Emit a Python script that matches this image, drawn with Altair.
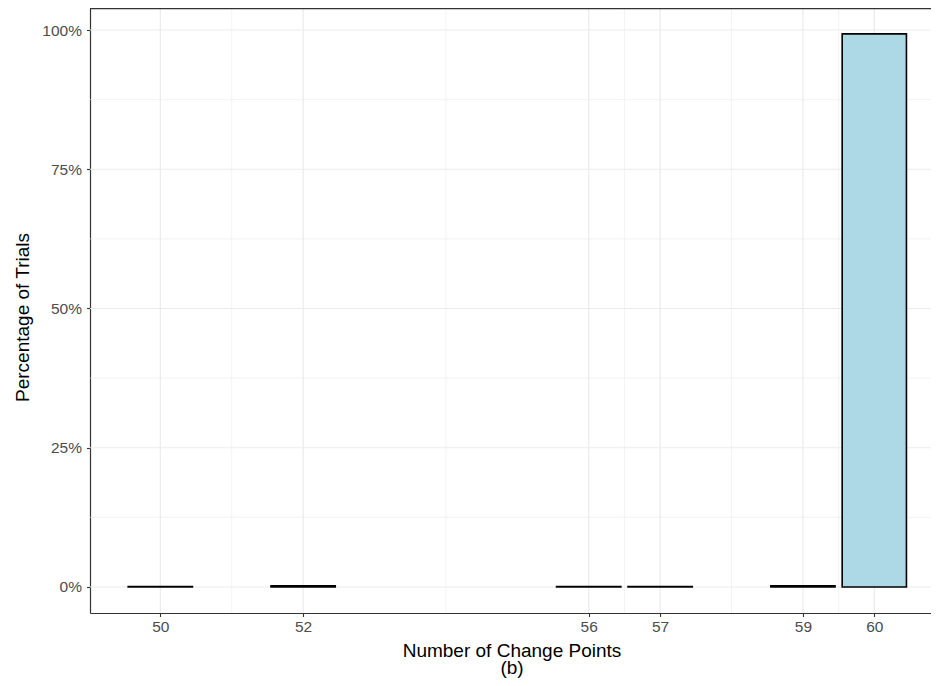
import altair as alt
import pandas as pd

# Data
change_points = [50, 52, 56, 57, 59, 60]
pct_trials = [0.1, 0.2, 0.1, 0.1, 0.2, 99.3]
bar_width = 0.9

x_major = [50, 52, 56, 57, 59, 60]
x_minor = [51, 54, 56.5, 58, 59.5]
y_major = [0, 25, 50, 75, 100]
y_minor = [12.5, 37.5, 62.5, 87.5]

x_domain = [49.015, 60.794]
y_domain = [-4.67, 103.95]

W, H = 841, 605
FONT = "Liberation Sans"

bars_df = pd.DataFrame({
    "cp": change_points,
    "left": [c - bar_width / 2 for c in change_points],
    "right": [c + bar_width / 2 for c in change_points],
    "pct": pct_trials,
    "zero": [0.0] * len(change_points),
})

xs = alt.Scale(domain=x_domain, nice=False, zero=False)
ys = alt.Scale(domain=y_domain, nice=False, zero=False)

grid_col = "#EBEBEB"

vmin = alt.Chart(pd.DataFrame({"v": x_minor})).mark_rule(color=grid_col, strokeWidth=0.6).encode(
    x=alt.X("v:Q", scale=xs, axis=None))
vmaj = alt.Chart(pd.DataFrame({"v": x_major})).mark_rule(color=grid_col, strokeWidth=1.2).encode(
    x=alt.X("v:Q", scale=xs, axis=None))
hmin = alt.Chart(pd.DataFrame({"v": y_minor})).mark_rule(color=grid_col, strokeWidth=0.6).encode(
    y=alt.Y("v:Q", scale=ys, axis=None))
hmaj = alt.Chart(pd.DataFrame({"v": y_major})).mark_rule(color=grid_col, strokeWidth=1.2).encode(
    y=alt.Y("v:Q", scale=ys, axis=None))

bars = alt.Chart(bars_df).mark_bar(
    fill="#ADD8E6", stroke="black", strokeWidth=1.6
).encode(
    x=alt.X("left:Q", scale=xs, axis=alt.Axis(
        values=x_major, grid=False, format="d",
        title=["Number of Change Points", "(b)"],
        titleFont=FONT, titleFontSize=19, titleFontWeight="normal", titleColor="black",
        titleX=421.5, titleY=43, titleBaseline="alphabetic", titleLineHeight=17.5,
        titleAlign="center", titleAnchor="start",
        labelFont=FONT, labelFontSize=15.5, labelColor="#4D4D4D", labelPadding=3,
        tickColor="#333333", tickSize=3.5, tickWidth=1.1,
        domainColor="#333333", domainWidth=1.2,
    )),
    x2="right:Q",
    y=alt.Y("zero:Q", scale=ys, axis=alt.Axis(
        values=y_major, grid=False, labelExpr="datum.value + '%'",
        title="Percentage of Trials",
        titleFont=FONT, titleFontSize=19, titleFontWeight="normal", titleColor="black",
        titleX=-62, titleY=309, titleBaseline="alphabetic", titleAngle=270,
        titleAlign="center", titleAnchor="start",
        labelFont=FONT, labelFontSize=15.5, labelColor="#4D4D4D", labelPadding=5,
        tickColor="#333333", tickSize=3.5, tickWidth=1.1,
        domainColor="#333333", domainWidth=1.2,
    )),
    y2="pct:Q",
)

top_border = alt.Chart(pd.DataFrame({"a": [0]})).mark_rule(color="#333333", strokeWidth=1.2).encode(
    x=alt.value(0), x2=alt.value(W), y=alt.value(0.6))

chart = alt.layer(vmin, vmaj, hmin, hmaj, bars, top_border).resolve_axis(
    x="independent", y="independent"
).properties(
    width=W, height=H,
    autosize=alt.AutoSizeParams(type="none"),
    padding={"left": 82, "top": 0, "right": 0, "bottom": 65},
).configure(background="white").configure_view(strokeWidth=0, stroke="transparent")

chart.save("out.html", embed_options={"renderer": "svg", "actions": False})
